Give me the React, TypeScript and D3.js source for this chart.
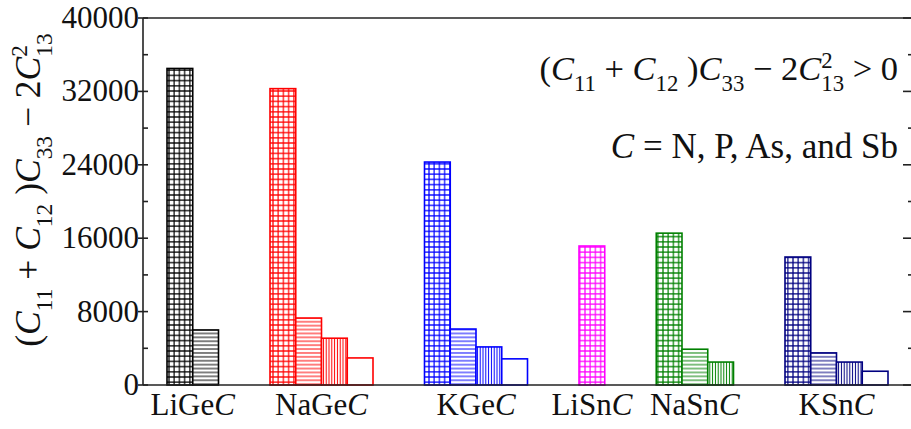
import React from "react";
import * as d3 from "d3";

const categories = ["LiGe", "NaGe", "KGe", "LiSn", "NaSn", "KSn"];
const colors = ["#000000", "#ff0000", "#0000ff", "#ff00ff", "#008000", "#000080"];
const valuesN: (number | null)[] = [34500, 32300, 24300, 15150, 16550, 13950];
const valuesP: (number | null)[] = [6000, 7300, 6100, null, 3900, 3500];
const valuesAs: (number | null)[] = [null, 5100, 4150, null, 2500, 2500];
const valuesSb: (number | null)[] = [null, 2950, 2850, null, null, 1500];
const seriesKinds = ["grid", "horiz", "vert", "empty"];
const yMajorTicks = [0, 8000, 16000, 24000, 32000, 40000];
const yMinorTicks = [4000, 12000, 20000, 28000, 36000];

const W = 911;
const H = 429;
const L = 143;
const R = 913;
const T = 18;
const B = 385;
const FONT = "Liberation Serif, Times New Roman, serif";
const fontStyle = { fontFamily: FONT };

type Part = { t: string; i?: boolean; sub?: boolean; sup?: boolean; stack?: boolean };

const formula: Part[] = [
  { t: "(" },
  { t: "C", i: true },
  { t: "11", sub: true },
  { t: " + " },
  { t: "C", i: true },
  { t: "12", sub: true },
  { t: " )" },
  { t: "C", i: true },
  { t: "33", sub: true },
  { t: " \u2212 2" },
  { t: "C", i: true },
  { t: "2", sup: true },
  { t: "13", sub: true, stack: true },
];

function renderParts(parts: Part[], fs: number) {
  const ss = fs * 0.66;
  let cur = 0;
  const out: React.ReactNode[] = [];
  parts.forEach((p, k) => {
    let target = 0;
    if (p.sub) target = fs * 0.33;
    if (p.sup) target = -fs * 0.36;
    const dy = target - cur;
    cur = target;
    const dx = p.stack ? -ss * 0.5 : 0;
    out.push(
      <tspan
        key={k}
        dy={dy}
        dx={dx}
        fontSize={p.sub || p.sup ? ss : fs}
        fontStyle={p.i ? "italic" : "normal"}
        style={fontStyle}
      >
        {p.t}
      </tspan>
    );
  });
  return out;
}

export default function App() {
  const series = [valuesN, valuesP, valuesAs, valuesSb];

  const bars: { cat: number; s: number; v: number; slot: number }[] = [];
  const groupCenters: number[] = [];
  let slot = 0;
  categories.forEach((_, ci) => {
    const start = slot;
    series.forEach((arr, si) => {
      const v = arr[ci];
      if (v != null) {
        bars.push({ cat: ci, s: si, v, slot });
        slot += 1;
      }
    });
    groupCenters.push((start + slot) / 2);
    slot += 2;
  });

  const x = d3.scaleLinear().domain([0, 28]).range([167, 888]);
  const y = d3.scaleLinear().domain([0, 40000]).range([B, T]);
  const bw = x(1) - x(0);

  return (
    <svg
      width={W}
      height={H}
      style={{ position: "fixed", left: 0, top: 0, background: "#fff", fontFamily: FONT }}
    >
      <defs>
        {colors.map((c, ci) => (
          <React.Fragment key={ci}>
            <pattern id={`grid-${ci}`} width={5.2} height={5.2} patternUnits="userSpaceOnUse">
              <rect width={5.2} height={5.2} fill="#fff" />
              <path d="M0 2.6H5.2M2.6 0V5.2" stroke={c} strokeWidth={1.2} />
            </pattern>
            <pattern id={`horiz-${ci}`} width={4} height={3.9} patternUnits="userSpaceOnUse">
              <rect width={4} height={3.9} fill="#fff" />
              <path d="M0 1.95H4" stroke={c} strokeWidth={1} />
            </pattern>
            <pattern id={`vert-${ci}`} width={2.8} height={4} patternUnits="userSpaceOnUse">
              <rect width={2.8} height={4} fill="#fff" />
              <path d="M1.4 0V4" stroke={c} strokeWidth={1} />
            </pattern>
          </React.Fragment>
        ))}
      </defs>

      {bars.map((b, k) => {
        const kind = seriesKinds[b.s];
        const fill = kind === "empty" ? "#fff" : `url(#${kind}-${b.cat})`;
        return (
          <rect
            key={k}
            x={x(b.slot)}
            y={y(b.v)}
            width={bw}
            height={y(0) - y(b.v)}
            fill={fill}
            stroke={colors[b.cat]}
            strokeWidth={1.6}
          />
        );
      })}

      <g stroke="#222" strokeWidth={1.6} fill="none">
        <line x1={L} x2={L} y1={T} y2={B} />
        <line x1={L} x2={R} y1={B} y2={B} />
        <line x1={L} x2={R} y1={T} y2={T} />
        <line x1={R} x2={R} y1={T} y2={B} />
        {yMajorTicks.map((t) => (
          <React.Fragment key={`M${t}`}>
            <line x1={L - 5} x2={L + 5} y1={y(t)} y2={y(t)} />
            <line x1={R - 10} x2={R} y1={y(t)} y2={y(t)} />
          </React.Fragment>
        ))}
        {yMinorTicks.map((t) => (
          <React.Fragment key={`m${t}`}>
            <line x1={L} x2={L + 5} y1={y(t)} y2={y(t)} />
            <line x1={R - 5} x2={R} y1={y(t)} y2={y(t)} />
          </React.Fragment>
        ))}
      </g>

      {yMajorTicks.map((t) => (
        <text key={t} x={L - 4} y={y(t) + 10} textAnchor="end" fontSize={31} fill="#111" style={fontStyle}>
          {t}
        </text>
      ))}

      {categories.map((c, ci) => (
        <text
          key={c}
          x={x(groupCenters[ci])}
          y={415}
          textAnchor="middle"
          fontSize={31}
          fill="#111"
          style={fontStyle}
        >
          {c}
          <tspan fontStyle="italic" style={fontStyle}>C</tspan>
        </text>
      ))}

      <text transform="translate(40,190) rotate(-90)" textAnchor="middle" fontSize={35.5} fill="#111" style={fontStyle}>
        {renderParts(formula, 35.5)}
      </text>

      <text x={898} y={80} textAnchor="end" fontSize={34.5} fill="#111" style={fontStyle}>
        {renderParts([...formula, { t: " > 0" }], 34.5)}
      </text>
      <text x={898} y={158} textAnchor="end" fontSize={35} fill="#111" style={fontStyle}>
        <tspan fontStyle="italic" style={fontStyle}>C</tspan>
        {" = N, P, As, and Sb"}
      </text>
    </svg>
  );
}
